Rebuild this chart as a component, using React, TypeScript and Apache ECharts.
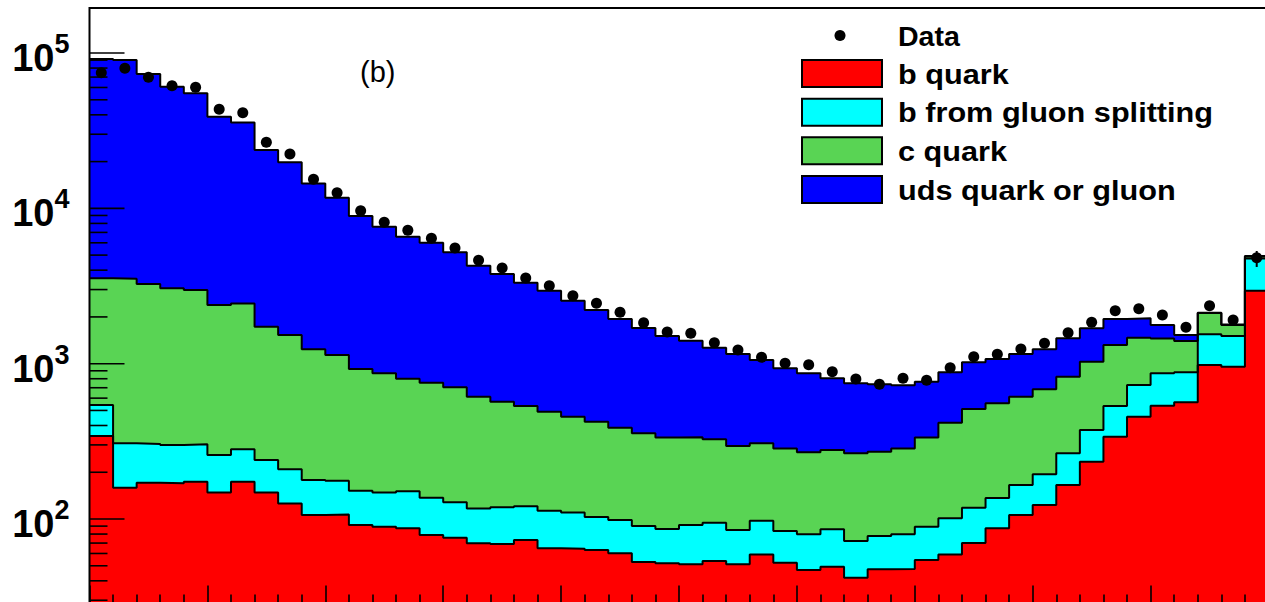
import React, { useEffect, useRef } from 'react';
import * as echarts from 'echarts';

// ---- data (per bin, 50 bins) ----
const bQuark = [342,159,171,170,174,148,174,148,126,106,107,91.5,89.2,87.1,78.9,75.8,69.8,69.0,73.3,64.8,64.4,63.1,60.1,52.9,51.9,51.1,53.7,51.1,59.2,52.3,46.9,49.3,41.9,47.4,47.7,54.5,59.2,70.1,87.1,106,123,165.5,234,339,456,536,564,980,956,2950];
const bGluonSplit = [200,148,133,130,129,110,107,92,83,72,69,60.5,58.8,63.9,58.1,52.2,47.2,50,47.7,48.2,45.6,39.9,38.4,37.2,34.3,40.4,41,33.9,38.3,31.4,32.8,36.5,30.3,30.3,32,34.7,41.8,47.9,49.4,59.5,71,99.5,140,195,273,331,316,566,551,1804];
const cQuark = [3000,3210,2950,2760,2680,2130,2160,1490,1320,1060,961,772,719,649,617,576,496,450,413,378,346,320,288,266,248,244,231,210,210,201,189,192,193,193,205,245,316,393,420,448,490,559,656,785,741,585,520,574,267,143];
const udsGluon = [88000,86700,69900,57600,52000,36500,33200,22000,18300,13200,10560,8010,6749,5768,5255,4508,3660,3209,2787,2459,2087,1793,1552,1341,1173,1070,941,859,749,649,598,527,482,466,441,431,463,510,516,541,554,633,659,620,489,322,130,9,13,37];
const dataCounts = [74700,79700,69800,61600,60200,43400,41300,26600,22400,15400,12600,9656,8133,7222,6414,5554,4630,4130,3560,3177,2739,2447,2141,1836,1599,1569,1365,1225,1099,1006,985,888,797,737,805,782,942,1109,1149,1243,1353,1583,1847,2193,2259,2058,1715,2361,1910,4812];
// visible error bars: [bin, low, high]
const dataErrors = [[49, 4194, 5314]];

const legendLabels = ['Data', 'b quark', 'b from gluon splitting', 'c quark', 'uds quark or gluon'];
const compNames = ['b quark', 'b from gluon splitting', 'c quark', 'uds quark or gluon'];
const compValues = [bQuark, bGluonSplit, cQuark, udsGluon];
const compColors = ['#ff0000', '#00ffff', '#59d454', '#0000ff'];

const Y_MIN = 28.58;
const Y_MAX = 194900;
const yMajorExps = [2, 3, 4, 5];
const panelLabel = '(b)';

const FONT = '"Liberation Sans", Arial, Helvetica, sans-serif';

// cumulative stacks (b, b+bg, b+bg+c, total)
function cumulative() {
  const out: number[][] = [];
  let acc = new Array(bQuark.length).fill(0);
  compValues.forEach((vals) => {
    acc = acc.map((a, i) => a + vals[i]);
    out.push(acc.slice());
  });
  return out;
}

function stepData(vals: number[]) {
  const pts: number[][] = vals.map((v, i) => [i, v]);
  pts.push([vals.length, vals[vals.length - 1]]);
  return pts;
}

function buildTicks() {
  const t: number[][] = [];
  yMajorExps.forEach((e) => t.push([0, Math.pow(10, e), 1]));
  for (let e = 1; e <= 5; e++) {
    for (let m = 2; m <= 9; m++) {
      const v = m * Math.pow(10, e);
      if (v > Y_MIN && v < Y_MAX) t.push([0, v, 0]);
    }
  }
  return t;
}

export default function App() {
  const ref = useRef<HTMLDivElement>(null);
  useEffect(() => {
    const chart = echarts.init(ref.current!, undefined, { renderer: 'svg' });
    const cum = cumulative();
    const series: any[] = [];
    // fills: largest first so smaller stacks are drawn over it
    for (let k = cum.length - 1; k >= 0; k--) {
      series.push({
        type: 'line', name: compNames[k], step: 'end',
        data: stepData(cum[k]), symbol: 'none', silent: true,
        lineStyle: { width: 0 },
        areaStyle: { color: compColors[k], opacity: 1, origin: 'start' },
        z: 2,
      });
    }
    for (let k = cum.length - 1; k >= 0; k--) {
      series.push({
        type: 'line', name: compNames[k] + ' outline', step: 'end',
        data: stepData(cum[k]), symbol: 'none', silent: true,
        lineStyle: { color: '#000', width: 2 },
        z: 3,
      });
    }
    series.push({
      type: 'scatter', name: 'Data',
      data: dataCounts.map((v, i) => [i + 0.5, v]),
      symbol: 'circle', symbolSize: 11,
      itemStyle: { color: '#000', opacity: 1 }, z: 5,
    });
    series.push({
      type: 'custom', name: 'errors', z: 5,
      data: dataErrors.map((d) => [d[0] + 0.5, d[1], d[2]]),
      renderItem: (params: any, api: any) => {
        const lo = api.coord([api.value(0), api.value(1)]);
        const hi = api.coord([api.value(0), api.value(2)]);
        return { type: 'line', shape: { x1: lo[0], y1: lo[1], x2: hi[0], y2: hi[1] }, style: { stroke: '#000', lineWidth: 2 } };
      },
    });
    series.push({
      type: 'custom', name: 'yticks', z: 10, silent: true,
      data: buildTicks(),
      renderItem: (params: any, api: any) => {
        const p = api.coord([api.value(0), api.value(1)]);
        const len = api.value(2) ? 35 : 18;
        return { type: 'line', shape: { x1: p[0], y1: p[1], x2: p[0] + len, y2: p[1] }, style: { stroke: '#000', lineWidth: 1.6 } };
      },
    });
    series.push({
      type: 'custom', name: 'ylabels', z: 10, silent: true,
      data: yMajorExps.map((e) => [0, Math.pow(10, e), e]),
      renderItem: (params: any, api: any) => {
        const p = api.coord([api.value(0), api.value(1)]);
        return {
          type: 'group',
          children: [
            { type: 'text', x: p[0] - 35, y: p[1] + 5, style: { text: '10', font: 'bold 38px ' + FONT, fill: '#000', align: 'right', verticalAlign: 'middle' } },
            { type: 'text', x: p[0] - 35, y: p[1] - 9, style: { text: String(api.value(2)), font: 'bold 27px ' + FONT, fill: '#000', align: 'left', verticalAlign: 'middle' } },
          ],
        };
      },
    });
    series.push({
      type: 'custom', name: 'frame', z: 11, silent: true,
      data: [[0, 100]],
      renderItem: (params: any) => {
        const cs = params.coordSys;
        return { type: 'rect', shape: { x: cs.x, y: cs.y, width: cs.width, height: cs.height }, style: { fill: 'none', stroke: '#000', lineWidth: 2 } };
      },
    });

    const legendEls: any[] = [];
    const rowY = (k: number) => 36.5 + (k === 0 ? 0 : 37 + 38.67 * (k - 1));
    legendEls.push({ type: 'circle', shape: { cx: 840, cy: 35.5, r: 5.5 }, style: { fill: '#000' } });
    compColors.forEach((c, k) => {
      legendEls.push({ type: 'rect', shape: { x: 802, y: rowY(k + 1) - 13.5, width: 80, height: 27 }, style: { fill: c, stroke: '#000', lineWidth: 2 } });
    });
    legendLabels.forEach((t, k) => {
      legendEls.push({
        type: 'text', x: 898, y: rowY(k), scaleX: k === 0 ? 1.02 : 1.095,
        style: { text: t, font: 'bold 28px ' + FONT, fill: '#000', align: 'left', verticalAlign: 'middle' },
      });
    });
    legendEls.push({ type: 'text', x: 360, y: 72, style: { text: panelLabel, font: '29px ' + FONT, fill: '#000', align: 'left', verticalAlign: 'middle' } });

    chart.setOption({
      animation: false,
      backgroundColor: '#fff',
      grid: { left: 89.5, top: 8, width: 1179, height: 595.5, show: false },
      xAxis: {
        type: 'value', min: 0, max: 50, interval: 5, z: 10,
        axisLine: { show: true, lineStyle: { color: '#000', width: 2 } },
        axisTick: { show: true, inside: true, length: 18, lineStyle: { color: '#000', width: 1.6 } },
        minorTick: { show: true, splitNumber: 5, length: 9, lineStyle: { color: '#000', width: 1.6 } },
        axisLabel: { show: false },
        splitLine: { show: false },
      },
      yAxis: {
        type: 'log', logBase: 10, min: Y_MIN, max: Y_MAX,
        axisLine: { show: false }, axisTick: { show: false }, axisLabel: { show: false },
        splitLine: { show: false }, minorTick: { show: false },
      },
      graphic: { elements: [{ type: 'group', z: 20, children: legendEls }] },
      series,
    });
    return () => chart.dispose();
  }, []);
  return <div ref={ref} style={{ position: 'fixed', left: 0, top: 0, width: 1290, height: 620, background: '#fff' }} />;
}
